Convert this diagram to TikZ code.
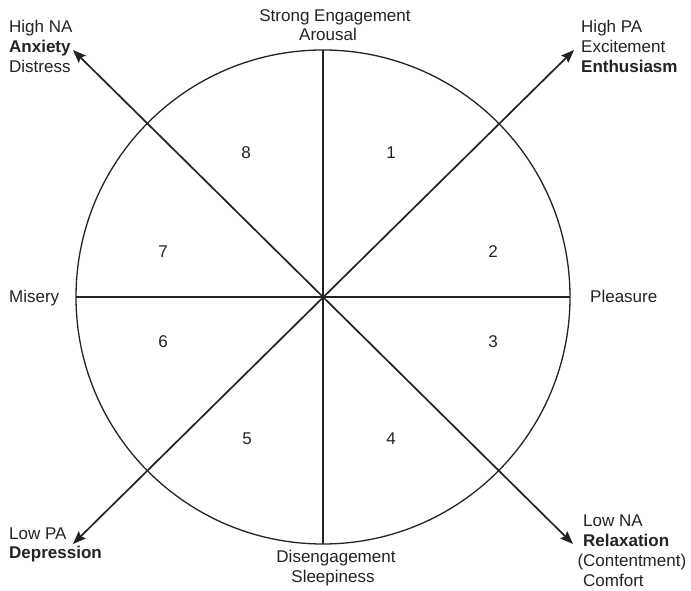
\documentclass[tikz,border=0pt]{standalone}
\usepackage{fontspec}
\setmainfont{Liberation Sans}
\usetikzlibrary{arrows.meta}
\definecolor{ink}{RGB}{35,35,35}
\tikzset{
  lbl/.style={font=\fontsize{17}{20}\selectfont, text=ink, inner sep=0pt, anchor=base west},
  clbl/.style={font=\fontsize{17}{20}\selectfont, text=ink, inner sep=0pt, anchor=base},
  num/.style={font=\fontsize{17}{20}\selectfont, text=ink, inner sep=0pt, anchor=center},
  axis/.style={draw=ink, line width=1.3pt},
  diag/.style={draw=ink, line width=1.7pt, {Stealth[length=13pt,width=10pt,inset=2pt]}-{Stealth[length=13pt,width=10pt,inset=2pt]}}
}
\begin{document}
\begin{tikzpicture}[x=1pt,y=1pt]
\useasboundingbox (0,0) rectangle (691,591);
\coordinate (c) at (323,294);
\draw[axis] (c) circle (247);
\coordinate (top) at (323,541);
\coordinate (bot) at (323,47);
\coordinate (lft) at (76,294);
\coordinate (rgt) at (570,294);
\draw[axis] (top) -- (bot);
\draw[axis] (lft) -- (rgt);
\coordinate (nw) at (73,541);
\coordinate (se) at (573,47);
\coordinate (ne) at (574,541);
\coordinate (sw) at (73,47);
\draw[diag] (nw) -- (se);
\draw[diag] (sw) -- (ne);
% numbers
\node[num] (n1) at (391,438) {1};
\node[num] (n2) at (493,339) {2};
\node[num] (n3) at (493,249) {3};
\node[num] (n4) at (391,152) {4};
\node[num] (n5) at (247,152) {5};
\node[num] (n6) at (163,249) {6};
\node[num] (n7) at (163,339) {7};
\node[num] (n8) at (246,438) {8};
% top / bottom
\node[clbl] (t1) at (335,569) {Strong Engagement};
\node[clbl] (t2) at (328,550) {Arousal};
\node[clbl] (b1) at (336,28) {Disengagement};
\node[clbl] (b2) at (333,8) {Sleepiness};
% left / right
\node[lbl] (mis) at (9,288) {Misery};
\node[lbl] (ple) at (590,288) {Pleasure};
% corners
\node[lbl] (hna1) at (9,558) {High NA};
\node[lbl] (hna2) at (9,538) {\bfseries Anxiety};
\node[lbl] (hna3) at (9,518) {Distress};
\node[lbl] (hpa1) at (581,558) {High PA};
\node[lbl] (hpa2) at (581,538) {Excitement};
\node[lbl] (hpa3) at (581,518) {\bfseries Enthusiasm};
\node[lbl] (lpa1) at (9,51) {Low PA};
\node[lbl] (lpa2) at (9,32) {\bfseries Depression};
\node[lbl] (lna1) at (583,64) {Low NA};
\node[lbl] (lna2) at (583,44) {\bfseries Relaxation};
\node[lbl] (lna3) at (583,24) {\llap{(}Contentment)};
\node[lbl] (lna4) at (583,4) {Comfort};
\end{tikzpicture}
\end{document}
